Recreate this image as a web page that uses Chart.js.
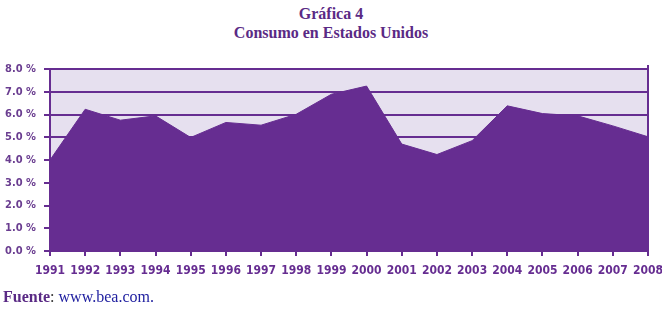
<!DOCTYPE html>
<html>
<head>
<meta charset="utf-8">
<script src="https://cdn.jsdelivr.net/npm/chart.js@4"></script>
<style>
  body { margin: 0; background: #fff; }
  #wrap { position: relative; width: 662px; height: 311px; }
  #chart { position: absolute; left: 0; top: 0; }
  .title { position: absolute; left: 0; width: 662px; text-align: center;
           font-family: "Liberation Serif", serif; font-weight: bold; font-size: 16px; color: #5a2a85; }
  #source { position: absolute; left: 3px; top: 288px; font-family: "Liberation Serif", serif; font-size: 16px; color: #333; }
  #source b { color: #5a2a85; }
  #source span { color: #2020a0; }
</style>
</head>
<body>
<div id="wrap">
  <div class="title" style="top:5px">Gráfica 4</div>
  <div class="title" style="top:24px">Consumo en Estados Unidos</div>
  <canvas id="chart" width="662" height="311"></canvas>
  <div id="source"><b>Fuente</b>: <span>www.bea.com.</span></div>
</div>
<script>
const years = ["1991","1992","1993","1994","1995","1996","1997","1998","1999","2000",
               "2001","2002","2003","2004","2005","2006","2007","2008"];
const consumo = [4.0, 6.23, 5.75, 5.94, 4.99, 5.65, 5.53, 6.01, 6.89, 7.25,
                 4.70, 4.24, 4.85, 6.38, 6.04, 5.94, 5.50, 5.02];
const yMin = 0;
const yMax = 8;

const purple = "#662d91";
const labelFont = "'Liberation Sans Narrow', 'DejaVu Sans Condensed', sans-serif";

const plotBg = {
  id: "plotBg",
  beforeDraw(chart) {
    const { ctx, chartArea: a } = chart;
    ctx.save();
    ctx.fillStyle = "#e6e0ef";
    ctx.fillRect(a.left, a.top, a.right - a.left, a.bottom - a.top);
    ctx.restore();
  },
  afterDatasetsDraw(chart) {
    const { ctx, chartArea: a } = chart;
    ctx.save();
    ctx.strokeStyle = purple;
    ctx.lineWidth = 2;
    ctx.beginPath();
    ctx.moveTo(a.right, a.top - 4);
    ctx.lineTo(a.right, a.bottom);
    ctx.stroke();
    ctx.restore();
  }
};

new Chart(document.getElementById("chart"), {
  type: "line",
  data: {
    labels: years,
    datasets: [{
      data: consumo,
      fill: "origin",
      backgroundColor: purple,
      borderColor: purple,
      borderWidth: 1,
      pointRadius: 0,
      tension: 0
    }]
  },
  options: {
    responsive: false,
    animation: false,
    layout: { padding: { top: 69, right: 14, bottom: 31, left: 0 } },
    plugins: { legend: { display: false }, tooltip: { enabled: false } },
    scales: {
      x: {
        offset: false,
        grid: { drawOnChartArea: false, drawTicks: true, tickLength: 5, color: purple, lineWidth: 2 },
        border: { color: purple, width: 2 },
        ticks: {
          color: purple, maxRotation: 0, autoSkip: false, padding: 8,
          font: { family: labelFont, size: 12, weight: "bold" }
        },
        afterFit(scale) {
          scale.height = 29;
          scale.paddingRight = 0;
          scale.paddingLeft = 0;
        }
      },
      y: {
        min: yMin, max: yMax,
        grid: { color: purple, lineWidth: 2, tickLength: 6 },
        border: { color: purple, width: 2 },
        ticks: {
          stepSize: 1, color: "#6a3d90", padding: 8,
          font: { family: labelFont, size: 11, weight: "bold" },
          callback: v => v.toFixed(1) + " %"
        },
        afterFit(scale) { scale.width = 50; }
      }
    }
  },
  plugins: [plotBg]
});
</script>
</body>
</html>
